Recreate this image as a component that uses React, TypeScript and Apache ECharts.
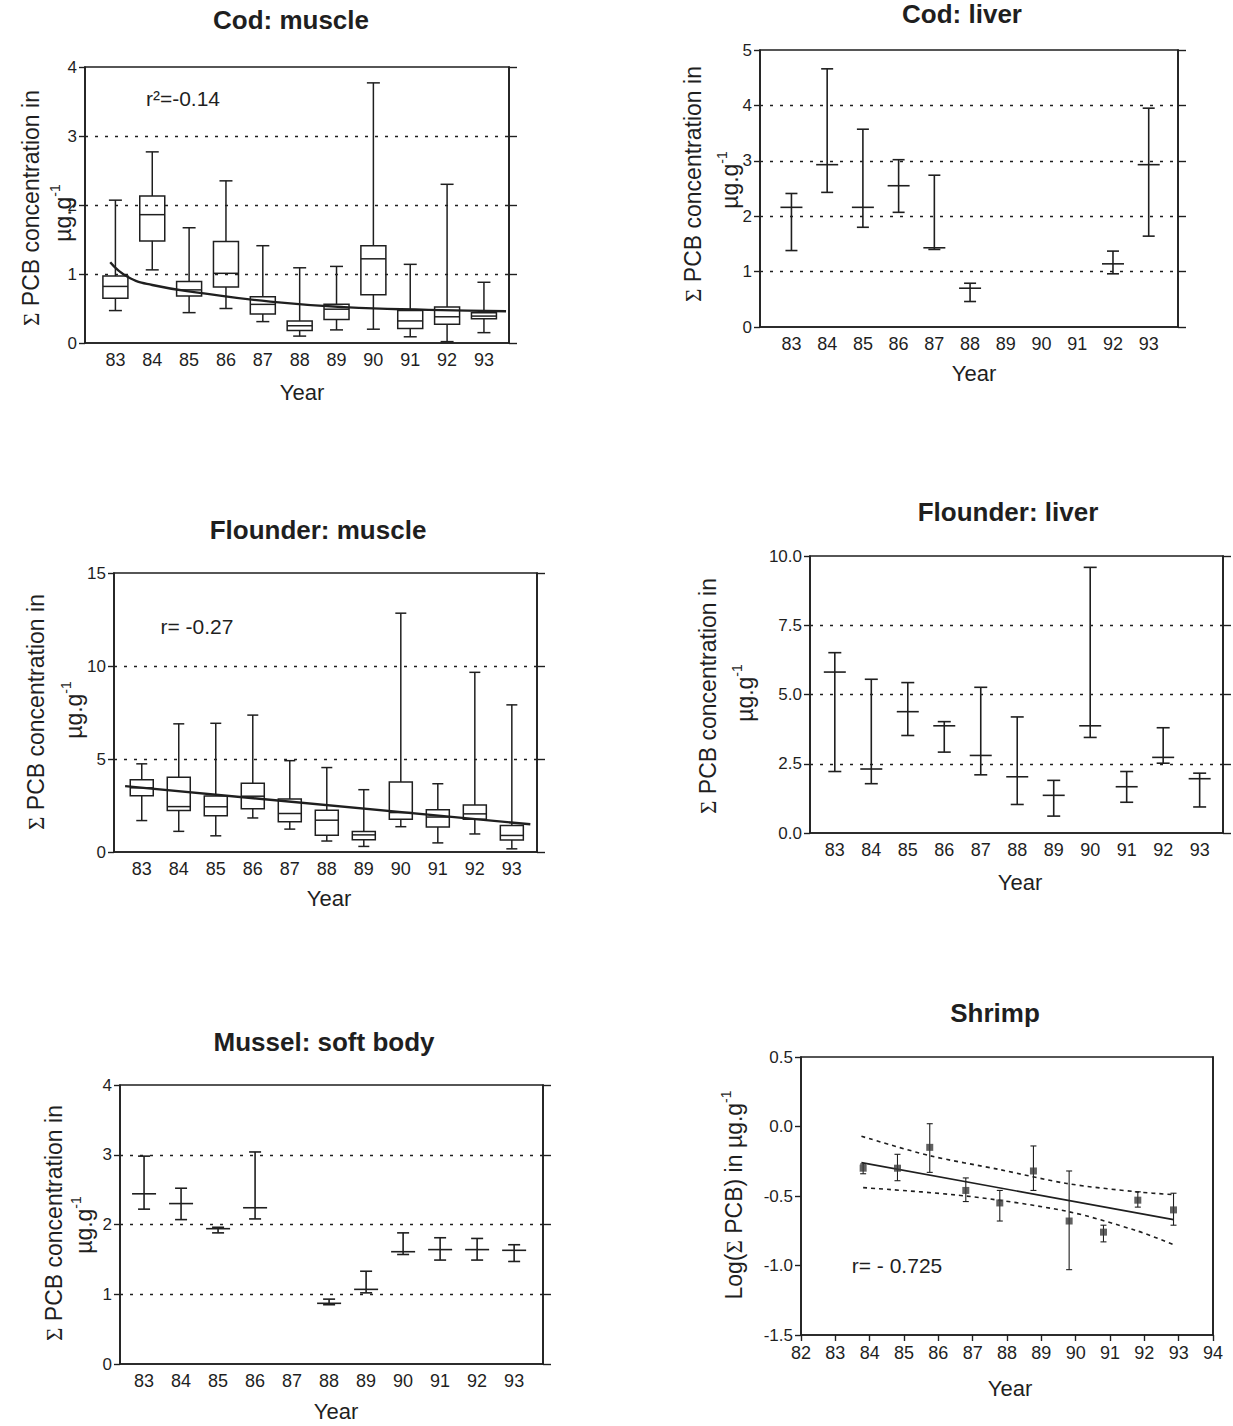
import React, { useEffect, useRef } from "react";
import * as echarts from "echarts";

const INK = "#1f1f1f";
const FONT = "'Liberation Sans', Arial, Helvetica, sans-serif";
const SERIF = "'Liberation Serif', 'DejaVu Serif', serif";

const YEARS = [83, 84, 85, 86, 87, 88, 89, 90, 91, 92, 93];

// ---- Cod: muscle (box plots) ----
const codMuscleMin = [0.47, 1.06, 0.44, 0.5, 0.31, 0.1, 0.19, 0.2, 0.09, 0.02, 0.15];
const codMuscleQ1 = [0.65, 1.48, 0.68, 0.81, 0.42, 0.18, 0.34, 0.7, 0.21, 0.27, 0.35];
const codMuscleMedian = [0.82, 1.86, 0.77, 1.01, 0.56, 0.25, 0.49, 1.22, 0.32, 0.38, 0.39];
const codMuscleQ3 = [0.97, 2.13, 0.89, 1.47, 0.67, 0.32, 0.56, 1.41, 0.47, 0.52, 0.44];
const codMuscleMax = [2.07, 2.77, 1.67, 2.35, 1.41, 1.09, 1.11, 3.77, 1.14, 2.3, 0.88];
const codMuscleTrendX = [82.86, 83.33, 84.0, 85.4, 87.2, 89.2, 91.5, 93.6];
const codMuscleTrendY = [1.17, 0.96, 0.84, 0.72, 0.6, 0.52, 0.48, 0.46];

// ---- Cod: liver (mean with range) ----
const codLiverYears = [83, 84, 85, 86, 87, 88, 92, 93];
const codLiverLow = [1.38, 2.43, 1.8, 2.07, 1.4, 0.46, 0.96, 1.64];
const codLiverMean = [2.16, 2.93, 2.16, 2.55, 1.43, 0.7, 1.14, 2.93];
const codLiverHigh = [2.41, 4.66, 3.57, 3.02, 2.74, 0.79, 1.37, 3.95];

// ---- Flounder: muscle (box plots) ----
const flMuscleMin = [1.69, 1.11, 0.87, 1.83, 1.23, 0.59, 0.3, 1.36, 0.49, 0.97, 0.17];
const flMuscleQ1 = [3.03, 2.23, 1.95, 2.32, 1.62, 0.9, 0.66, 1.76, 1.34, 1.76, 0.64];
const flMuscleMedian = [3.45, 2.44, 2.43, 3.0, 2.07, 1.71, 0.92, 2.12, 1.88, 2.05, 0.89];
const flMuscleQ3 = [3.88, 4.02, 3.01, 3.7, 2.85, 2.24, 1.1, 3.77, 2.27, 2.53, 1.43];
const flMuscleMax = [4.74, 6.89, 6.92, 7.36, 4.91, 4.54, 3.35, 12.84, 3.67, 9.66, 7.91];
const flMuscleTrendX = [82.55, 93.5];
const flMuscleTrendY = [3.54, 1.49];

// ---- Flounder: liver (mean with range) ----
const flLiverLow = [2.22, 1.78, 3.52, 2.92, 2.1, 1.03, 0.61, 3.45, 1.11, 2.52, 0.94];
const flLiverMean = [5.81, 2.31, 4.38, 3.87, 2.8, 2.03, 1.36, 3.87, 1.67, 2.73, 1.96];
const flLiverHigh = [6.51, 5.55, 5.43, 4.02, 5.26, 4.19, 1.9, 9.59, 2.22, 3.8, 2.16];

// ---- Mussel: soft body (mean with range) ----
const musselYears = [83, 84, 85, 86, 88, 89, 90, 91, 92, 93];
const musselLow = [2.22, 2.07, 1.88, 2.08, 0.85, 1.02, 1.57, 1.49, 1.49, 1.47];
const musselMean = [2.44, 2.3, 1.94, 2.24, 0.87, 1.07, 1.61, 1.64, 1.64, 1.63];
const musselHigh = [2.98, 2.52, 1.96, 3.04, 0.93, 1.33, 1.88, 1.81, 1.8, 1.71];

// ---- Shrimp (log mean with range, regression and 95% band) ----
const shrimpYears = [83.81, 84.81, 85.75, 86.8, 87.79, 88.77, 89.81, 90.81, 91.81, 92.85];
const shrimpMean = [-0.3, -0.3, -0.15, -0.46, -0.55, -0.32, -0.68, -0.76, -0.53, -0.6];
const shrimpHigh = [-0.27, -0.2, 0.02, -0.37, -0.46, -0.14, -0.32, -0.71, -0.47, -0.48];
const shrimpLow = [-0.34, -0.39, -0.33, -0.54, -0.68, -0.46, -1.03, -0.83, -0.58, -0.71];
const shrimpFitX = [83.76, 92.85];
const shrimpFitY = [-0.26, -0.67];
const shrimpUpperX = [83.76, 85.75, 87.79, 89.74, 91.78, 92.85];
const shrimpUpperY = [-0.07, -0.21, -0.31, -0.41, -0.47, -0.49];
const shrimpLowerX = [83.81, 86.8, 89.74, 91.78, 92.85];
const shrimpLowerY = [-0.44, -0.5, -0.61, -0.75, -0.85];
const SHRIMP_X_TICKS = [82, 83, 84, 85, 86, 87, 88, 89, 90, 91, 92, 93, 94];

// ---- panel frames (pixels) & axis ranges ----
const PANELS = [
  { l: 85, r: 509, t: 67, b: 343, xMin: 82.175, xMax: 93.68, yMin: 0, yMax: 4, yInt: 1, dec: 0 },
  { l: 760, r: 1178, t: 50, b: 327, xMin: 82.12, xMax: 93.82, yMin: 0, yMax: 5, yInt: 1, dec: 0 },
  { l: 114, r: 537, t: 573, b: 852, xMin: 82.25, xMax: 93.68, yMin: 0, yMax: 15, yInt: 5, dec: 0 },
  { l: 810, r: 1223, t: 556, b: 833, xMin: 82.32, xMax: 93.64, yMin: 0, yMax: 10, yInt: 2.5, dec: 1 },
  { l: 120, r: 543, t: 1085, b: 1364, xMin: 82.35, xMax: 93.78, yMin: 0, yMax: 4, yInt: 1, dec: 0 },
  { l: 801, r: 1213, t: 1057, b: 1335, xMin: 82, xMax: 94, yMin: -1.5, yMax: 0.5, yInt: 0.5, dec: 1 },
];

const zip = (xs: number[], ys: number[]) => xs.map((x, i) => [x, ys[i]]);

function boxSeries(idx: number, mins: number[], q1: number[], med: number[], q3: number[], maxs: number[], boxHw: number, capHw: number) {
  const data = YEARS.map((y, i) => [y, mins[i], q1[i], med[i], q3[i], maxs[i]]);
  return {
    type: "custom",
    xAxisIndex: idx,
    yAxisIndex: idx,
    silent: true,
    data,
    encode: { x: 0, y: [1, 2, 3, 4, 5] },
    renderItem: (_p: any, api: any) => {
      const x = api.value(0);
      const c = (v: number) => api.coord([x, v]);
      const cx = c(api.value(1))[0];
      const yLo = c(api.value(1))[1];
      const yQ1 = c(api.value(2))[1];
      const yMed = c(api.value(3))[1];
      const yQ3 = c(api.value(4))[1];
      const yHi = c(api.value(5))[1];
      const st = { stroke: INK, lineWidth: 1.5, fill: "none" };
      return {
        type: "group",
        children: [
          { type: "line", shape: { x1: cx, y1: yHi, x2: cx, y2: yQ3 }, style: st },
          { type: "line", shape: { x1: cx, y1: yQ1, x2: cx, y2: yLo }, style: st },
          { type: "line", shape: { x1: cx - capHw, y1: yHi, x2: cx + capHw, y2: yHi }, style: st },
          { type: "line", shape: { x1: cx - capHw, y1: yLo, x2: cx + capHw, y2: yLo }, style: st },
          { type: "rect", shape: { x: cx - boxHw, y: yQ3, width: boxHw * 2, height: yQ1 - yQ3 }, style: st },
          { type: "line", shape: { x1: cx - boxHw, y1: yMed, x2: cx + boxHw, y2: yMed }, style: st },
        ],
      };
    },
  };
}

function errSeries(idx: number, xs: number[], lows: number[], means: number[], highs: number[], capHw: number, meanHw: number, lw: number) {
  const data = xs.map((x, i) => [x, lows[i], means[i], highs[i]]);
  return {
    type: "custom",
    xAxisIndex: idx,
    yAxisIndex: idx,
    silent: true,
    data,
    encode: { x: 0, y: [1, 2, 3] },
    renderItem: (_p: any, api: any) => {
      const x = api.value(0);
      const lo = api.coord([x, api.value(1)]);
      const mid = api.coord([x, api.value(2)]);
      const hi = api.coord([x, api.value(3)]);
      const cx = lo[0];
      const st = { stroke: INK, lineWidth: lw, fill: "none" };
      const children: any[] = [
        { type: "line", shape: { x1: cx, y1: hi[1], x2: cx, y2: lo[1] }, style: st },
        { type: "line", shape: { x1: cx - capHw, y1: hi[1], x2: cx + capHw, y2: hi[1] }, style: st },
        { type: "line", shape: { x1: cx - capHw, y1: lo[1], x2: cx + capHw, y2: lo[1] }, style: st },
      ];
      if (meanHw > 0) {
        children.push({ type: "line", shape: { x1: cx - meanHw, y1: mid[1], x2: cx + meanHw, y2: mid[1] }, style: st });
      }
      return { type: "group", children };
    },
  };
}

function lineSeries(idx: number, xs: number[], ys: number[], width: number, dashed: boolean, smooth: boolean | number) {
  return {
    type: "line",
    xAxisIndex: idx,
    yAxisIndex: idx,
    data: zip(xs, ys),
    showSymbol: false,
    symbol: "none",
    smooth,
    silent: true,
    z: 5,
    lineStyle: { color: INK, width, type: dashed ? [4, 4] : "solid" },
  };
}

function txt(x: number, y: number, text: string, size: number, weight: string = "normal") {
  return {
    type: "text",
    x,
    y,
    silent: true,
    z: 10,
    style: {
      text,
      fill: INK,
      fontFamily: FONT,
      fontSize: size,
      fontWeight: weight,
      align: "center",
      verticalAlign: "middle",
    },
  };
}

function concLabel(x1: number, y1: number, x2: number, y2: number) {
  return [
    {
      type: "text",
      x: x1,
      y: y1,
      rotation: Math.PI / 2,
      silent: true,
      style: {
        text: "{s|Σ} PCB concentration in",
        rich: { s: { fontFamily: SERIF, fontSize: 23, fill: INK } },
        fontFamily: FONT,
        fontSize: 23,
        fill: INK,
        align: "center",
        verticalAlign: "middle",
      },
    },
    {
      type: "text",
      x: x2,
      y: y2,
      rotation: Math.PI / 2,
      silent: true,
      style: {
        text: "µg.g{sup|-1}",
        rich: { sup: { fontFamily: FONT, fontSize: 14, fill: INK, verticalAlign: "top", lineHeight: 30 } },
        fontFamily: FONT,
        fontSize: 23,
        fill: INK,
        align: "center",
        verticalAlign: "middle",
      },
    },
  ];
}

function buildOption() {
  const grid = PANELS.map((p) => ({
    left: p.l,
    top: p.t,
    width: p.r - p.l,
    height: p.b - p.t,
    show: true,
    borderColor: INK,
    borderWidth: 1.6,
    backgroundColor: "transparent",
    containLabel: false,
    outerBoundsMode: "none",
  }));

  const xAxis = PANELS.map((p, i) => {
    const isShrimp = i === 5;
    return {
      type: "value",
      gridIndex: i,
      min: p.xMin,
      max: p.xMax,
      interval: isShrimp ? 1 : undefined,
      axisLine: { show: true, onZero: false, lineStyle: { color: INK, width: 1.6 } },
      axisTick: isShrimp
        ? { show: true, length: 6, inside: false, lineStyle: { color: INK, width: 1.4 } }
        : { show: false },
      axisLabel: {
        show: true,
        color: INK,
        fontFamily: FONT,
        fontSize: 18,
        margin: isShrimp ? 9 : 8,
        customValues: isShrimp ? SHRIMP_X_TICKS : YEARS,
        formatter: (v: number) => String(Math.round(v)),
      },
      splitLine: { show: false },
    };
  });

  const leftY = PANELS.map((p, i) => ({
    type: "value",
    gridIndex: i,
    position: "left",
    min: p.yMin,
    max: p.yMax,
    interval: p.yInt,
    axisLine: { show: true, onZero: false, lineStyle: { color: INK, width: 1.6 } },
    axisTick: { show: true, inside: false, length: 6, lineStyle: { color: INK, width: 1.4 } },
    axisLabel: {
      show: true,
      color: INK,
      fontFamily: FONT,
      fontSize: 17,
      margin: 8,
      formatter: (v: number) => v.toFixed(p.dec),
    },
    splitLine:
      i === 5
        ? { show: false }
        : {
            show: true,
            showMinLine: false,
            showMaxLine: false,
            lineStyle: { color: INK, width: 1.4, type: [3, 7] },
          },
  }));

  const rightY = PANELS.map((p, i) => ({
    type: "value",
    gridIndex: i,
    position: "right",
    min: p.yMin,
    max: p.yMax,
    interval: p.yInt,
    axisLine: { show: true, onZero: false, lineStyle: { color: INK, width: 1.6 } },
    axisTick: { show: i !== 5, inside: false, length: 8, lineStyle: { color: INK, width: 1.4 } },
    axisLabel: { show: false },
    splitLine: { show: false },
  }));

  const series: any[] = [
    boxSeries(0, codMuscleMin, codMuscleQ1, codMuscleMedian, codMuscleQ3, codMuscleMax, 12.5, 6.5),
    lineSeries(0, codMuscleTrendX, codMuscleTrendY, 2.4, false, true),
    errSeries(1, codLiverYears, codLiverLow, codLiverMean, codLiverHigh, 6, 11, 1.6),
    boxSeries(2, flMuscleMin, flMuscleQ1, flMuscleMedian, flMuscleQ3, flMuscleMax, 11.5, 5.5),
    lineSeries(2, flMuscleTrendX, flMuscleTrendY, 2.4, false, false),
    errSeries(3, YEARS, flLiverLow, flLiverMean, flLiverHigh, 6.5, 11, 1.6),
    errSeries(4, musselYears, musselLow, musselMean, musselHigh, 6, 12, 1.6),
    errSeries(5, shrimpYears, shrimpLow, shrimpMean, shrimpHigh, 3, 0, 1.1),
    {
      type: "scatter",
      xAxisIndex: 5,
      yAxisIndex: 5,
      data: zip(shrimpYears, shrimpMean),
      symbol: "rect",
      symbolSize: 7,
      silent: true,
      z: 6,
      itemStyle: { color: "#3a3a3a" },
    },
    lineSeries(5, shrimpFitX, shrimpFitY, 1.6, false, false),
    lineSeries(5, shrimpUpperX, shrimpUpperY, 1.6, true, 0.3),
    lineSeries(5, shrimpLowerX, shrimpLowerY, 1.6, true, 0.3),
  ];

  const graphic: any[] = [
    // titles
    txt(291, 20, "Cod: muscle", 26, "bold"),
    txt(962, 14, "Cod: liver", 26, "bold"),
    txt(318, 530, "Flounder: muscle", 26, "bold"),
    txt(1008, 512, "Flounder: liver", 26, "bold"),
    txt(324, 1042, "Mussel: soft body", 26, "bold"),
    txt(995, 1013, "Shrimp", 26, "bold"),
    // x axis names
    txt(302, 392, "Year", 22),
    txt(974, 373, "Year", 22),
    txt(329, 898, "Year", 22),
    txt(1020, 882, "Year", 22),
    txt(336, 1411, "Year", 22),
    txt(1010, 1388, "Year", 22),
    // statistics
    txt(183, 98, "r²=-0.14", 21),
    txt(197, 626, "r= -0.27", 21),
    txt(897, 1265, "r= - 0.725", 21),
    // y axis names
    ...concLabel(31, 208, 63, 213),
    ...concLabel(693, 184, 730, 180),
    ...concLabel(36, 712, 74, 710),
    ...concLabel(708, 696, 745, 693),
    ...concLabel(54, 1223, 84, 1225),
    {
      type: "text",
      x: 734,
      y: 1195,
      rotation: Math.PI / 2,
      silent: true,
      style: {
        text: "Log({s|Σ} PCB) in µg.g{sup|-1}",
        rich: {
          s: { fontFamily: SERIF, fontSize: 23, fill: INK },
          sup: { fontFamily: FONT, fontSize: 14, fill: INK, verticalAlign: "top", lineHeight: 30 },
        },
        fontFamily: FONT,
        fontSize: 23,
        fill: INK,
        align: "center",
        verticalAlign: "middle",
      },
    },
  ];

  return {
    animation: false,
    backgroundColor: "#ffffff",
    textStyle: { fontFamily: FONT, color: INK },
    grid,
    xAxis,
    yAxis: [...leftY, ...rightY],
    series,
    graphic,
  };
}

export default function App() {
  const ref = useRef<HTMLDivElement | null>(null);
  useEffect(() => {
    if (!ref.current) return;
    const chart = echarts.init(ref.current, undefined, { renderer: "svg" });
    chart.setOption(buildOption() as any);
    return () => chart.dispose();
  }, []);
  return (
    <div
      ref={ref}
      style={{ position: "absolute", left: 0, top: 0, width: 1233, height: 1426, background: "#fff" }}
    />
  );
}
